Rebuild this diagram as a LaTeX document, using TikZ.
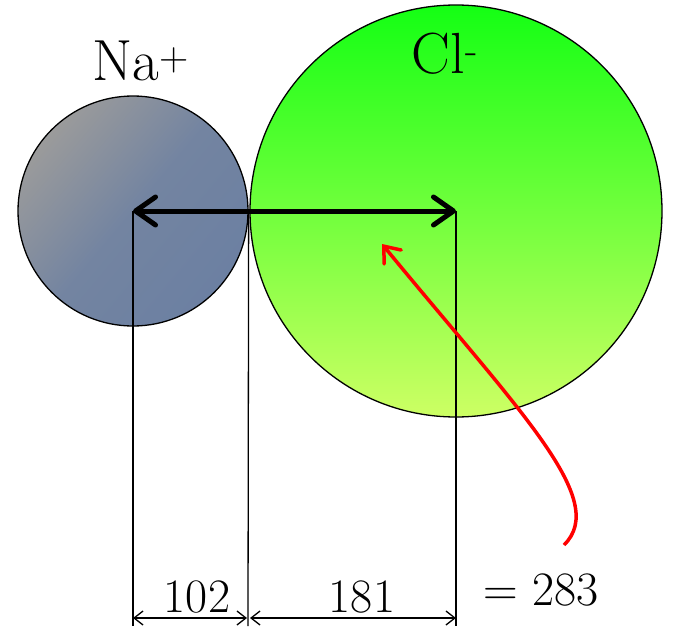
\documentclass[tikz,border=0pt]{standalone}
\usetikzlibrary{arrows.meta}

\definecolor{nagray}{RGB}{155,155,155}
\definecolor{nablue}{RGB}{108,128,162}
\definecolor{cltop}{RGB}{20,255,20}
\definecolor{clbottom}{RGB}{205,255,100}

\begin{document}
\begin{tikzpicture}[x=1pt, y=-1pt,
	ion/.style={circle, draw, line width=1.3pt, inner sep=0pt},
	bond/.style={line width=5pt, {Straight Barb[length=20pt, width=28pt, line cap=round, line join=round]}-{Straight Barb[length=20pt, width=28pt, line cap=round, line join=round]}},
	guide/.style={line width=1.3pt},
	dim/.style={line width=1.3pt, {Straight Barb[length=9pt, width=14pt]}-{Straight Barb[length=9pt, width=14pt]}},
	big/.style={font=\fontsize{58}{58}\selectfont, inner sep=0pt, anchor=base},
	num/.style={font=\fontsize{48}{48}\selectfont, inner sep=0pt, anchor=base}]
	\useasboundingbox (0,0) rectangle (673,629);
	
	% Ions
	\node[ion, minimum size=230pt, shading=axis, top color=nagray, bottom color=nablue, middle color=nablue!85!nagray, shading angle=50] (na) at (133,211) {};
	\node[ion, minimum size=412pt, top color=cltop, bottom color=clbottom] (cl) at (456,211) {};
	\node[big] (nalabel) at (141,80) {Na\textsuperscript{+}};
	\node[big] (cllabel) at (445,73) {Cl\textsuperscript{-}};
	
	% Guide lines down to the dimensions
	\coordinate (nafoot) at (133,626);
	\coordinate (touchfoot) at (248,626);
	\coordinate (clfoot) at (456,626);
	\draw[guide] (na.center) -- (nafoot);
	\draw[guide] (na.east) -- (touchfoot);
	\draw[guide] (cl.center) -- (clfoot);
	
	% Distance between the centres
	\draw[bond] (na.center) -- (cl.center);
	
	% Radii
	\coordinate (da) at (133,618);
	\coordinate (db) at (247,618);
	\coordinate (dc) at (250,618);
	\coordinate (dd) at (456,618);
	\draw[dim] (da) -- (db);
	\draw[dim] (dc) -- (dd);
	\node[num] (rna) at (197,612) {102};
	\node[num] (rcl) at (362,612) {181};
	\node[num] (sum) at (541,605) {= 283};
	
	% Pointer to the sum
	\coordinate (redstart) at (564,545);
	\coordinate (redtip) at (382,244);
	\draw[red, line width=3.5pt, -{Straight Barb[length=14pt, width=22pt, line cap=round]}] (redstart) .. controls (610,500) and (520,412) .. (redtip);
\end{tikzpicture}
\end{document}
